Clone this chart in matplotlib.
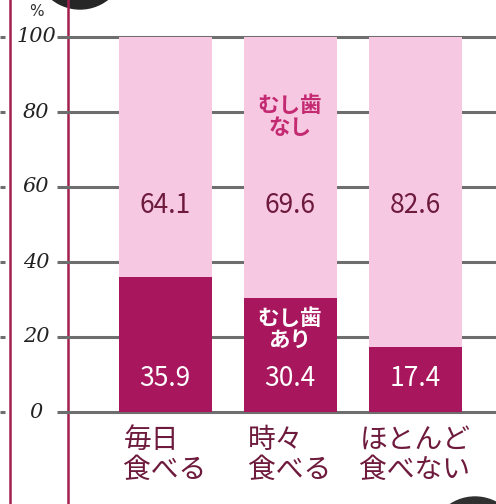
import matplotlib
matplotlib.use('Agg')
from matplotlib import pyplot as plt
from matplotlib.patches import Circle
from matplotlib.font_manager import FontProperties

plt.rcParams['font.family'] = ['Noto Sans CJK JP', 'DejaVu Sans']

categories = ['毎日\n食べる', '時々\n食べる', 'ほとんど\n食べない']
caries_yes = [35.9, 30.4, 17.4]
caries_no = [64.1, 69.6, 82.6]
y_ticks = [0, 20, 40, 60, 80, 100]

PINK = '#f6c8e1'
MAGENTA = '#a8175e'
MAROON = '#6e1a3c'
RED_LINE = '#a3204e'
GRID = '#6e6e6e'

W, H = 496, 504
fig = plt.figure(figsize=(W / 100, H / 100), dpi=100)

# page furniture: frame lines and cut-off badges, in pixel coordinates
deco = fig.add_axes([0, 0, 1, 1], zorder=0)
deco.set_xlim(0, W)
deco.set_ylim(H, 0)
deco.axis('off')
for xv in (9.5, 68):
    deco.plot([xv, xv], [0, H], color=RED_LINE, lw=1.8, clip_on=False)
deco.add_patch(Circle((80, -36), 45, color='#262626'))
deco.add_patch(Circle((475, 542), 45, color='#303030'))
deco.text(36, 12, '%', ha='center', va='center', fontsize=11,
          color='#333333', family='DejaVu Sans')

ax = fig.add_axes([0, (H - 412) / H, 1, 375 / H], zorder=1)
ax.patch.set_alpha(0)
x = list(range(len(categories)))
ax.set_xlim(-165 / 125, (W - 165) / 125)
ax.set_ylim(0, 100)
ax.axis('off')

tick_font = FontProperties(family='DejaVu Serif', style='italic', size=15)
for t in y_ticks:
    ax.hlines(t, (57 - 165) / 125, (W - 165) / 125, color=GRID, lw=2.2,
              zorder=1, clip_on=False)
    ax.hlines(t, -165 / 125, (5 - 165) / 125, color=GRID, lw=2.2,
              zorder=1, clip_on=False)
    ax.text((36 - 165) / 125, t, str(t), ha='center', va='center',
            fontproperties=tick_font, color='#222222', clip_on=False)

ax.bar(x, caries_yes, width=0.744, color=MAGENTA, zorder=2)
ax.bar(x, caries_no, width=0.744, bottom=caries_yes, color=PINK, zorder=2)

for i in x:
    ax.text(i, 55, f'{caries_no[i]:.1f}', ha='center', va='center',
            fontsize=19, color=MAROON, zorder=3)
    ax.text(i, 9, f'{caries_yes[i]:.1f}', ha='center', va='center',
            fontsize=19, color='white', zorder=3)
    ax.text(i, -11.5, categories[i], ha='center', va='center',
            multialignment='left', fontsize=20, color=MAROON,
            linespacing=1.0, clip_on=False)

ax.text(1, 78.7, 'むし歯\nなし', ha='center', va='center', fontsize=15.5,
        color='#c42a72', fontweight='bold', linespacing=1.05, zorder=3)
ax.text(1, 21.9, 'むし歯\nあり', ha='center', va='center', fontsize=15.5,
        color='white', fontweight='bold', linespacing=1.05, zorder=3)

fig.savefig('out.png', dpi=100)
